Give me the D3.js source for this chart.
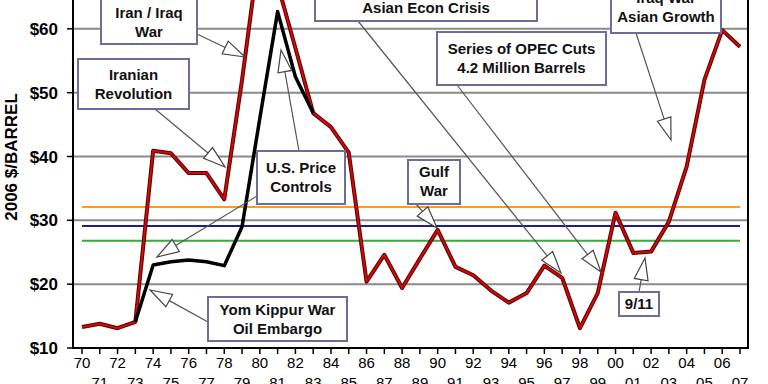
<!DOCTYPE html>
<html>
<head>
<meta charset="utf-8">
<script src="https://cdn.jsdelivr.net/npm/d3@7"></script>
<style>
  body { margin: 0; background: #fff; }
  svg { display: block; font-family: "Liberation Sans", Arial, sans-serif; }
</style>
</head>
<body>
<div id="chart"></div>
<script>
// crude oil price, 2006 dollars per barrel
const years = d3.range(1970, 2008);
const realPrice = [13.3, 13.8, 13.1, 14.1, 40.9, 40.5, 37.4, 37.4, 33.3, 52.0,
                   73.0, 67.0, 57.0, 46.8, 44.6, 40.6, 20.4, 24.6, 19.4, 24.0,
                   28.5, 22.7, 21.4, 19.0, 17.1, 18.6, 22.9, 21.0, 13.1, 18.6,
                   31.2, 24.9, 25.1, 29.8, 38.4, 52.0, 59.8, 57.2];
// US price controls period
const controlYears = [1973, 1974, 1975, 1976, 1977, 1978, 1979, 1980, 1981, 1982, 1983];
const controlPrice = [14.1, 23.0, 23.5, 23.8, 23.5, 22.9, 29.0, 46.0, 62.7, 52.5, 46.8];
// horizontal reference levels
const levels = [32.1, 29.1, 26.8];
const levelColors = ["#ff9a1f", "#1c1c96", "#3aaa3a"];
const yTicks = [10, 20, 30, 40, 50, 60];
const gridValues = [20, 30, 40, 50, 60, 70];

const width = 768, height = 384;
const frame = { left: 73, right: 748, bottom: 348 };

const x = d3.scaleLinear().domain([1970, 2007]).range([82, 740]);
const y = d3.scaleLinear().domain([10, 70]).range([348, -35]);

const svg = d3.select("#chart").append("svg")
    .attr("width", width)
    .attr("height", height);

svg.append("rect").attr("width", width).attr("height", height).attr("fill", "#fff");

// gridlines
svg.append("g")
    .selectAll("line")
    .data(gridValues)
    .enter().append("line")
    .attr("x1", frame.left).attr("x2", frame.right)
    .attr("y1", d => y(d)).attr("y2", d => y(d))
    .attr("stroke", "#8a8a8a")
    .attr("stroke-width", 2);

// reference levels
svg.append("g")
    .selectAll("line")
    .data(levels)
    .enter().append("line")
    .attr("x1", x(1970)).attr("x2", x(2007))
    .attr("y1", d => y(d)).attr("y2", d => y(d))
    .attr("stroke", (d, i) => levelColors[i])
    .attr("stroke-width", 2);

// red real price line (dark edge + red core)
const line = d3.line().x(d => x(d[0])).y(d => y(d[1]));
const redData = years.map((yr, i) => [yr, realPrice[i]]);
svg.append("path").datum(redData)
    .attr("d", line).attr("fill", "none")
    .attr("stroke", "#5a0000").attr("stroke-width", 4)
    .attr("stroke-linejoin", "round");
svg.append("path").datum(redData)
    .attr("d", line).attr("fill", "none")
    .attr("stroke", "#cc0a0a").attr("stroke-width", 2)
    .attr("stroke-linejoin", "round");

// black controlled price line
const blackData = controlYears.map((yr, i) => [yr, controlPrice[i]]);
svg.append("path").datum(blackData)
    .attr("d", line).attr("fill", "none")
    .attr("stroke", "#000").attr("stroke-width", 3.5)
    .attr("stroke-linejoin", "round");

// frame
svg.append("path")
    .attr("d", `M${frame.left},-10V${frame.bottom}H${frame.right}V-10`)
    .attr("fill", "none").attr("stroke", "#000").attr("stroke-width", 2);

// y axis ticks and labels
const yAxis = svg.append("g");
yAxis.selectAll("line")
    .data(yTicks).enter().append("line")
    .attr("x1", frame.left - 6).attr("x2", frame.left)
    .attr("y1", d => y(d)).attr("y2", d => y(d))
    .attr("stroke", "#000").attr("stroke-width", 1.5);
yAxis.selectAll("text")
    .data(yTicks).enter().append("text")
    .attr("x", 58).attr("y", d => y(d) + 6)
    .attr("text-anchor", "end")
    .attr("font-size", 17).attr("font-weight", "bold")
    .text(d => "$" + d);

svg.append("text")
    .attr("transform", "translate(17,157) rotate(-90)")
    .attr("text-anchor", "middle")
    .attr("font-size", 17).attr("font-weight", "bold")
    .text("2006 $/BARREL");

// x axis ticks and labels
const xAxis = svg.append("g");
xAxis.selectAll("line")
    .data(years).enter().append("line")
    .attr("x1", d => x(d)).attr("x2", d => x(d))
    .attr("y1", frame.bottom).attr("y2", frame.bottom + 6)
    .attr("stroke", "#000").attr("stroke-width", 1.5);
xAxis.selectAll("text")
    .data(years).enter().append("text")
    .attr("x", d => x(d))
    .attr("y", d => d % 2 === 0 ? 368 : 388)
    .attr("text-anchor", "middle")
    .attr("font-size", 15)
    .text(d => String(d).slice(2));

// annotations: box [x0, y0, x1, y1], text baselines, arrows [from, to]
const notes = [
    { lines: ["Iran / Iraq", "War"], box: [101, -4, 197, 44], base: 18,
      arrows: [[197, 34, 245, 57]] },
    { lines: ["Iranian", "Revolution"], box: [78, 59, 189, 109], base: 80,
      arrows: [[155, 109, 225, 167]] },
    { lines: ["U.S. Price", "Controls"], box: [257, 151, 345, 204], base: 173,
      arrows: [[299, 151, 281, 50], [257, 196, 157, 257]] },
    { lines: ["Gulf", "War"], box: [408, 160, 460, 204], base: 177,
      arrows: [[416, 204, 437, 228]] },
    { lines: ["Asian Econ Crisis"], box: [315, -20, 537, 21], base: 13,
      arrows: [[358, 21, 561, 273]] },
    { lines: ["Series of OPEC Cuts", "4.2 Million Barrels"], box: [437, 32, 606, 85], base: 54,
      arrows: [[457, 85, 601, 272]] },
    { lines: ["Iraq War", "Asian Growth"], box: [611, -30, 721, 33], base: 3,
      arrows: [[636, 33, 671, 140]] },
    { lines: ["9/11"], box: [619, 292, 659, 316], base: 309,
      arrows: [[639, 292, 645, 258]] },
    { lines: ["Yom Kippur War", "Oil Embargo"], box: [208, 297, 347, 341], base: 315,
      arrows: [[208, 322, 150, 290]] }
];

const ann = svg.append("g");
notes.forEach(n => {
    n.arrows.forEach(a => {
        const [x1, y1, x2, y2] = a;
        const len = Math.hypot(x2 - x1, y2 - y1);
        const ux = (x2 - x1) / len, uy = (y2 - y1) / len;
        const L = 22, W = 7;
        const bx = x2 - ux * L, by = y2 - uy * L;
        ann.append("line")
            .attr("x1", x1).attr("y1", y1).attr("x2", bx).attr("y2", by)
            .attr("stroke", "#555").attr("stroke-width", 1.2);
        ann.append("path")
            .attr("d", `M${x2},${y2}L${bx - uy * W},${by + ux * W}L${bx + uy * W},${by - ux * W}Z`)
            .attr("fill", "#fff").attr("stroke", "#444").attr("stroke-width", 1.2);
    });
    const [x0, y0, x1, y1] = n.box;
    ann.append("rect")
        .attr("x", x0).attr("y", y0)
        .attr("width", x1 - x0).attr("height", y1 - y0)
        .attr("fill", "#fff").attr("stroke", "#6d6d9c").attr("stroke-width", 2);
    n.lines.forEach((t, i) => {
        ann.append("text")
            .attr("x", (x0 + x1) / 2)
            .attr("y", n.base + i * 19)
            .attr("text-anchor", "middle")
            .attr("font-size", 15).attr("font-weight", "bold")
            .attr("fill", "#111")
            .text(t);
    });
});
</script>
</body>
</html>
